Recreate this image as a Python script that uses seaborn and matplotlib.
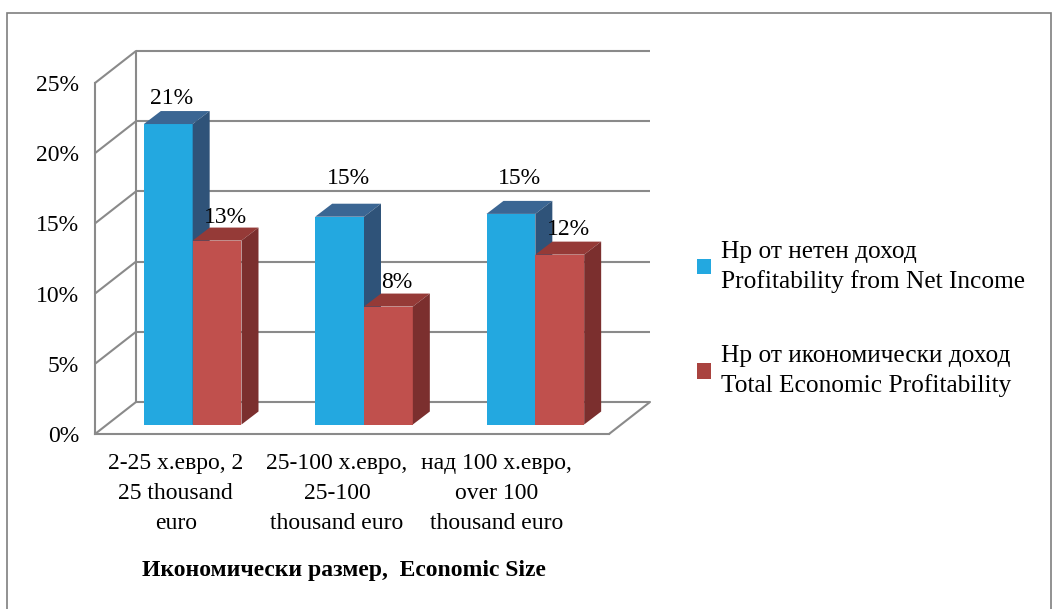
import matplotlib
matplotlib.use("Agg")
import matplotlib.pyplot as plt
from matplotlib.patches import Patch, Polygon, Rectangle
from matplotlib.lines import Line2D
from matplotlib.transforms import ScaledTranslation, IdentityTransform
import numpy as np
import pandas as pd
import seaborn as sns

# Data
categories = [
    "2-25 х.евро, 2\n25 thousand\neuro",
    "25-100 х.евро,\n25-100\nthousand euro",
    "над 100 х.евро,\nover 100\nthousand euro",
]
series = [
    "Нр от нетен доход\nProfitability from Net Income",
    "Нр от икономически доход\nTotal Economic Profitability",
]
net_income = [0.214, 0.148, 0.150]
economic = [0.131, 0.084, 0.121]
yticks = [0.0, 0.05, 0.10, 0.15, 0.20, 0.25]
ytick_labels = ["0%", "5%", "10%", "15%", "20%", "25%"]
xlabel = "Икономически размер,  Economic Size"

df = pd.DataFrame({
    "size": categories * 2,
    "value": net_income + economic,
    "series": [series[0]] * 3 + [series[1]] * 3,
})

# colours: front, top, side
front_cols = ["#23a8e0", "#c0504d"]
top_cols = ["#3b6693", "#953a37"]
side_cols = ["#2f5379", "#7b2f2e"]
legend_cols = ["#23a8e0", "#a9433f"]
grid = "#8a8a8a"

sns.set_style("white")
plt.rcParams["font.family"] = ["Liberation Serif", "DejaVu Serif"]
plt.rcParams["text.color"] = "black"
plt.rcParams["ytick.labelcolor"] = "black"

W, H = 1052, 609
fig = plt.figure(figsize=(W / 100, H / 100), dpi=100)
ax = fig.add_axes([95 / W, (H - 434) / H, 514 / W, 351 / H])

sns.barplot(data=df, x="size", y="value", hue="series", order=categories,
            hue_order=series, palette=front_cols, width=0.57, gap=0,
            saturation=1, linewidth=0, legend=False, ax=ax)
ax.set_xlim(-0.5, 2.5)
ax.set_ylim(0, 0.25)


def shift(dx, dy):
    return ScaledTranslation(dx / 100, dy / 100, fig.dpi_scale_trans)


def to_px(x, y):
    return ax.transData.transform((x, y))


D = np.array([41, 32])      # depth of the whole box (pixels)
F = np.array([12, 9.5])     # bar front plane offset
B = np.array([17, 13])      # bar depth

# back wall grid and side wall
back = ax.transData + shift(*D)
ax.hlines(yticks, -0.5, 2.5, transform=back, colors=grid, lw=1.5, zorder=1, clip_on=False)
ax.vlines(-0.5, 0, 0.25, transform=back, colors=grid, lw=1.5, zorder=1, clip_on=False)
for t in yticks:
    p0 = to_px(-0.5, t)
    p1 = p0 + D
    ax.add_line(Line2D([p0[0], p1[0]], [p0[1], p1[1]], transform=IdentityTransform(),
                       color=grid, lw=1.5, zorder=1, clip_on=False))
p0 = to_px(2.5, 0)
p1 = p0 + D
ax.add_line(Line2D([p0[0], p1[0]], [p0[1], p1[1]], transform=IdentityTransform(),
                   color=grid, lw=1.5, zorder=1, clip_on=False))

# 3d bars built from the seaborn patches
label_lift = [7, 5, 20, 6, 17, 7]
label_dx = [-5, 0, 0, 0, 0, 0]
bars = sorted(ax.patches, key=lambda p: p.get_x())
for i, p in enumerate(bars):
    s = i % 2
    p.set_transform(ax.transData + shift(*F))
    p.set_clip_on(False)
    p.set_zorder(3 + i)
    x0, x1, h = p.get_x(), p.get_x() + p.get_width(), p.get_height()
    a = to_px(x0, h) + F
    b = to_px(x1, h) + F
    c = to_px(x1, 0) + F
    ax.add_patch(Polygon([a, b, b + B, a + B], closed=True, transform=IdentityTransform(),
                         fc=top_cols[s], lw=0, zorder=3 + i + 0.5, clip_on=False))
    ax.add_patch(Polygon([c, b, b + B, c + B], closed=True, transform=IdentityTransform(),
                         fc=side_cols[s], lw=0, zorder=3 + i + 0.5, clip_on=False))
    cx = (a[0] + b[0]) / 2 + B[0] / 2 + label_dx[i]
    ax.text(cx, a[1] + B[1] + label_lift[i], f"{h:.0%}", transform=IdentityTransform(),
            ha="center", va="baseline", fontsize=17, color="black", zorder=20)

# axes styling
sns.despine(ax=ax)
for side in ["left", "bottom"]:
    ax.spines[side].set_color(grid)
    ax.spines[side].set_linewidth(1.5)
ax.set_yticks(yticks, ytick_labels)
ax.tick_params(axis="y", length=5.8, width=1.5, color=grid, pad=5.8, labelsize=17,
               labelcolor="black")
ax.set_xticks([])
ax.set_xlabel("")
ax.set_ylabel("")

cat_dx = [-5, -15, -27]
for i, (cat, dx) in enumerate(zip(categories, cat_dx)):
    ax.text(i, 0, cat, transform=ax.transData + shift(dx, -19), ha="center", va="top",
            fontsize=17, linespacing=1.55, color="black")

fig.text(344 / W, 1 - 560 / H, xlabel, ha="center", va="top", fontsize=17,
         fontweight="bold", color="black")

handles = [Patch(fc=c, lw=0) for c in legend_cols]
leg = ax.legend(handles, series, loc="upper left", bbox_to_anchor=(697 / W, 1 - 241 / H),
                bbox_transform=fig.transFigure, frameon=False, fontsize=18.3,
                handlelength=0.55, handleheight=0.55, handletextpad=0.4,
                labelspacing=2.05, borderpad=0, borderaxespad=0)
plt.setp(leg.get_texts(), linespacing=1.4, color="black")

fig.add_artist(Rectangle((7 / W, -0.05), (1051 - 7) / W, (H - 13) / H + 0.05,
                         transform=fig.transFigure, fill=False, ec="#7f7f7f", lw=1.2))

fig.savefig("out.png", dpi=100)
